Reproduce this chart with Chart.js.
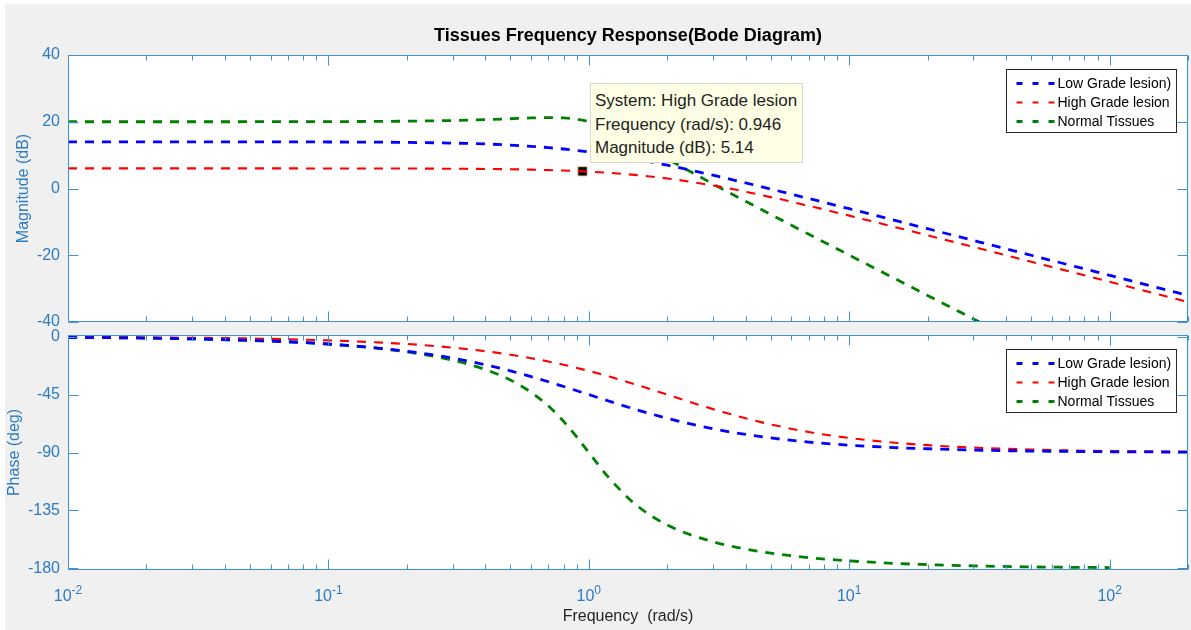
<!DOCTYPE html>
<html>
<head>
<meta charset="utf-8">
<script src="https://cdn.jsdelivr.net/npm/chart.js@4.4.1/dist/chart.umd.min.js"></script>
<style>
  html, body { margin: 0; padding: 0; background: #fff; overflow: hidden; }
  #fig { position: absolute; left: 5px; top: 4px; width: 1186px; height: 626px; background: #f0f0f0; }
  canvas { position: absolute; left: 0; }
  #magCanvas { top: 0; }
  #phaseCanvas { top: 300px; }
  #tip {
    position: absolute; left: 590px; top: 83px; width: 213px; height: 80px;
    box-sizing: border-box; background: #ffffe6; border: 1px solid #d8d8cc;
    font-family: 'Liberation Sans', Arial, sans-serif; font-size: 17px; line-height: 23.5px;
    color: #222; padding: 5px 0 0 4px; white-space: nowrap;
  }
</style>
</head>
<body>
<div id="fig"></div>
<canvas id="magCanvas" width="1191" height="345"></canvas>
<canvas id="phaseCanvas" width="1191" height="330"></canvas>
<div id="tip"></div>
<script>
// frequencies (rad/s)
const freq = [0.01, 0.02, 0.05, 0.1, 0.2, 0.3, 0.4, 0.5, 0.6, 0.7, 0.8, 1, 1.2, 1.5, 2, 3, 4, 5, 7, 10, 15, 20, 30, 50, 70, 100, 150, 200];
const freqNormal = [0.01, 0.02, 0.05, 0.1, 0.2, 0.3, 0.4, 0.5, 0.6, 0.7, 0.8, 0.9, 1, 1.1, 1.2, 1.5, 2, 3, 4, 5, 7, 10, 15, 20, 30, 50, 70, 100];

// magnitude (dB)
const magLow = [13.98, 13.98, 13.97, 13.94, 13.81, 13.60, 13.34, 13.01, 12.64, 12.25, 11.83, 10.97, 10.11, 8.86, 6.99, 3.98, 1.68, -0.17, -3.01, -6.06, -9.56, -12.05, -15.57, -20.00, -22.92, -26.02, -29.54, -32.04];
const magHigh = [6.02, 6.02, 6.02, 6.01, 5.98, 5.92, 5.85, 5.76, 5.65, 5.52, 5.38, 5.05, 4.69, 4.08, 3.01, 0.90, -0.97, -2.58, -5.20, -8.13, -11.56, -14.02, -17.52, -21.94, -24.86, -27.96, -31.48, -33.98];
const magNormal = [20.00, 20.00, 20.01, 20.04, 20.17, 20.37, 20.63, 20.90, 21.14, 21.25, 21.14, 20.73, 20.00, 19.02, 17.87, 14.19, 8.86, 1.37, -3.82, -7.79, -13.72, -19.96, -27.02, -32.03, -39.08, -47.96, -53.80, -60.00];

// phase (deg)
const phaseLow = [-0.6, -1.1, -2.9, -5.7, -11.3, -16.7, -21.8, -26.6, -31.0, -35.0, -38.7, -45.0, -50.2, -56.3, -63.4, -71.6, -76.0, -78.7, -81.9, -84.3, -86.2, -87.1, -88.1, -88.9, -89.2, -89.4, -89.6, -89.7];
const phaseHigh = [-0.3, -0.6, -1.4, -2.9, -5.7, -8.5, -11.3, -14.0, -16.7, -19.3, -21.8, -26.6, -31.0, -36.9, -45.0, -56.3, -63.4, -68.2, -74.1, -78.7, -82.4, -84.3, -86.2, -87.7, -88.4, -88.9, -89.2, -89.4];
const phaseNormal = [-0.6, -1.1, -2.9, -5.8, -11.8, -18.3, -25.5, -33.7, -43.2, -53.9, -65.8, -78.1, -90.0, -100.8, -110.1, -129.8, -146.3, -159.4, -165.1, -168.2, -171.7, -174.2, -176.2, -177.1, -178.1, -178.9, -179.2, -179.4];

const seriesLabels = ['Low Grade lesion)', 'High Grade lesion', 'Normal Tissues'];
const magTicks = [-40, -20, 0, 20, 40];
const phaseTicks = [-180, -135, -90, -45, 0];
const xTickExponents = [-2, -1, 0, 1, 2];

// data tip
const tipSystem = 'High Grade lesion';
const tipFreq = 0.946;
const tipMag = 5.14;

const FONT = "'Liberation Sans', Arial, Helvetica, sans-serif";
const AXIS_COLOR = '#3f91d6';
const LABEL_COLOR = '#2b7bc3';
Chart.defaults.font.family = FONT;

const toXY = (xs, ys) => xs.map((x, i) => ({ x: x, y: ys[i] }));

function lineSet(label, xs, ys, color, width) {
    return {
        label: label,
        data: toXY(xs, ys),
        borderColor: color,
        borderWidth: width,
        borderDash: [9, 8],
        pointRadius: 0,
        fill: false,
        cubicInterpolationMode: 'monotone',
        clip: 0
    };
}

// white plot background
const plotBg = {
    id: 'plotBg',
    beforeDatasetsDraw(chart) {
        const { ctx, chartArea: a } = chart;
        ctx.save();
        ctx.fillStyle = '#fff';
        ctx.fillRect(a.left, a.top, a.right - a.left, a.bottom - a.top);
        ctx.restore();
    }
};

// box + inward tick marks like matlab
const frameTicks = {
    id: 'frameTicks',
    afterDatasetsDraw(chart) {
        const { ctx, chartArea: a, scales } = chart;
        const xs = scales.x, ys = scales.y;
        const L = Math.round(a.left) + 0.5, R = Math.round(a.right) - 0.5;
        const T = Math.round(a.top) + 0.5, B = Math.round(a.bottom) - 0.5;
        ctx.save();
        ctx.strokeStyle = AXIS_COLOR;
        ctx.lineWidth = 1;
        ctx.strokeRect(L, T, R - L, B - T);
        ctx.beginPath();
        for (let e = -2; e <= 2; e++) {
            for (let m = 1; m <= 9; m++) {
                const v = m * Math.pow(10, e);
                if (v > xs.max + 1e-9) break;
                const px = Math.round(xs.getPixelForValue(v)) + 0.5;
                const len = m === 1 ? 10 : 5;
                ctx.moveTo(px, T); ctx.lineTo(px, T + len);
                ctx.moveTo(px, B); ctx.lineTo(px, B - len);
            }
        }
        ys.ticks.forEach(t => {
            const py = Math.round(ys.getPixelForValue(t.value)) + 0.5;
            ctx.moveTo(L, py); ctx.lineTo(L + 10, py);
            ctx.moveTo(R, py); ctx.lineTo(R - 10, py);
        });
        ctx.stroke();
        ctx.restore();
    }
};

// boxed legend, upper right inside the axes
const boxLegend = {
    id: 'boxLegend',
    afterDraw(chart) {
        const { ctx, chartArea: a } = chart;
        const w = 170, h = 63;
        const x = Math.round(a.right - 12 - w) + 0.5, y = Math.round(a.top + 14) + 0.5;
        ctx.save();
        ctx.fillStyle = '#fff';
        ctx.fillRect(x, y, w, h);
        ctx.strokeStyle = '#262626';
        ctx.lineWidth = 1;
        ctx.strokeRect(x, y, w, h);
        seriesLabels.forEach((lab, i) => {
            const ds = chart.data.datasets[i];
            const cy = y + 14 + i * 19;
            ctx.beginPath();
            ctx.setLineDash([6, 10]);
            ctx.strokeStyle = ds.borderColor;
            ctx.lineWidth = ds.borderWidth;
            ctx.moveTo(x + 10, cy);
            ctx.lineTo(x + 48, cy);
            ctx.stroke();
            ctx.setLineDash([]);
            ctx.fillStyle = '#000';
            ctx.font = '14px ' + FONT;
            ctx.textBaseline = 'middle';
            ctx.fillText(lab, x + 51, cy + 1);
        });
        ctx.restore();
    }
};

// 10^n labels with raised exponent
const powerLabels = {
    id: 'powerLabels',
    afterDraw(chart) {
        const { ctx } = chart;
        const xs = chart.scales.x;
        const yBase = xs.top + 31;
        ctx.save();
        ctx.fillStyle = LABEL_COLOR;
        ctx.textBaseline = 'alphabetic';
        xTickExponents.forEach(e => {
            const px = xs.getPixelForValue(Math.pow(10, e));
            const base = '10', sup = String(e);
            ctx.font = '16px ' + FONT;
            const wb = ctx.measureText(base).width;
            ctx.font = '12px ' + FONT;
            const ws = ctx.measureText(sup).width;
            const x0 = px - (wb + ws) / 2;
            ctx.font = '16px ' + FONT;
            ctx.fillText(base, x0, yBase);
            ctx.font = '12px ' + FONT;
            ctx.fillText(sup, x0 + wb, yBase - 7);
        });
        ctx.restore();
    }
};

function xAxis(height, title) {
    return {
        type: 'logarithmic',
        min: 0.01,
        max: 200,
        afterFit: s => { s.height = height; },
        grid: { display: false, drawTicks: false },
        border: { display: false },
        ticks: { display: false },
        title: title
            ? { display: true, text: title, color: '#262626', font: { size: 16 }, padding: { top: 0, bottom: 3.4 } }
            : { display: false }
    };
}

function yAxis(min, max, ticks, title, titlePad) {
    return {
        type: 'linear',
        min: min,
        max: max,
        afterBuildTicks: s => { s.ticks = ticks.map(v => ({ value: v })); },
        afterFit: s => { s.width = 68; },
        grid: { display: false, drawTicks: false },
        border: { display: false },
        ticks: { color: LABEL_COLOR, font: { size: 16 }, padding: 8, callback: v => String(v) },
        title: { display: true, text: title, color: LABEL_COLOR, font: { size: 16 }, padding: { top: titlePad, bottom: 0 } }
    };
}

new Chart(document.getElementById('magCanvas'), {
    type: 'line',
    data: {
        datasets: [
            lineSet(seriesLabels[0], freq, magLow, '#0000ff', 2.8),
            lineSet(seriesLabels[1], freq, magHigh, '#ff0000', 2.1),
            lineSet(seriesLabels[2], freqNormal, magNormal, '#008000', 2.8),
            {
                label: 'datatip',
                data: [{ x: tipFreq, y: tipMag }],
                showLine: false,
                pointStyle: 'rect',
                pointRadius: 6.6,
                backgroundColor: '#000',
                borderColor: '#d8d2a8',
                borderWidth: 1
            }
        ]
    },
    options: {
        responsive: false,
        animation: false,
        layout: { autoPadding: false, padding: { left: 0, right: 3, top: 0, bottom: 23 } },
        scales: {
            x: xAxis(0, null),
            y: yAxis(-40, 40, magTicks, 'Magnitude (dB)', 14)
        },
        plugins: {
            legend: { display: false },
            tooltip: { enabled: false },
            title: {
                display: true,
                fullSize: false,
                text: 'Tissues Frequency Response(Bode Diagram)',
                color: '#000',
                font: { size: 18, weight: 'bold' },
                padding: { top: 25.5, bottom: 7.9 }
            }
        }
    },
    plugins: [plotBg, frameTicks, boxLegend]
});

new Chart(document.getElementById('phaseCanvas'), {
    type: 'line',
    data: {
        datasets: [
            lineSet(seriesLabels[0], freq, phaseLow, '#0000ff', 2.8),
            lineSet(seriesLabels[1], freq, phaseHigh, '#ff0000', 2.1),
            lineSet(seriesLabels[2], freqNormal, phaseNormal, '#008000', 2.8)
        ]
    },
    options: {
        responsive: false,
        animation: false,
        layout: { autoPadding: false, padding: { left: 0, right: 3, top: 35, bottom: 0 } },
        scales: {
            x: xAxis(60, 'Frequency  (rad/s)'),
            y: yAxis(-181.3, 1.3, phaseTicks, 'Phase (deg)', 5.4)
        },
        plugins: {
            legend: { display: false },
            tooltip: { enabled: false }
        }
    },
    plugins: [plotBg, frameTicks, boxLegend, powerLabels]
});

document.getElementById('tip').innerHTML =
    'System: ' + tipSystem + '<br>Frequency (rad/s): ' + tipFreq + '<br>Magnitude (dB): ' + tipMag;
</script>
</body>
</html>
